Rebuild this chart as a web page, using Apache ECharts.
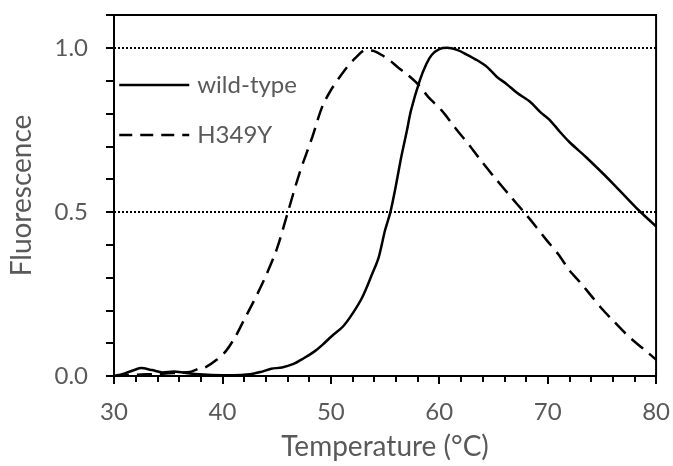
<!DOCTYPE html>
<html>
<head>
<meta charset="utf-8">
<script src="https://cdn.jsdelivr.net/npm/echarts@6/dist/echarts.min.js"></script>
<style>
html,body{margin:0;padding:0;background:#fff;}
#chart{width:673px;height:466px;}
</style>
</head>
<body>
<div id="chart"></div>
<script>
// Wild-type melt curve
var wtTemp  = [30, 31, 32, 32.5, 33.5, 34.5, 35.5, 36.5, 37.5, 39, 41, 42.5, 43.5, 44.5, 45.5, 46.5, 47.5, 48.5, 49.2, 50.1, 51.1, 52, 52.9, 53.8, 54.4, 55, 55.5, 56, 56.5, 57, 57.4, 58.2, 58.8, 59.3, 60, 60.7, 61.7, 62.5, 63.5, 64.4, 65.3, 66.2, 67.2, 68.4, 69.3, 70.2, 71.1, 72, 73.5, 75.1, 76, 77.2, 78.4, 80];
var wtFluor = [0.0, 0.008, 0.02, 0.024, 0.018, 0.011, 0.014, 0.01, 0.006, 0.003, 0.002, 0.005, 0.012, 0.022, 0.026, 0.036, 0.054, 0.075, 0.094, 0.122, 0.15, 0.19, 0.24, 0.31, 0.36, 0.444, 0.5, 0.58, 0.668, 0.745, 0.81, 0.9, 0.95, 0.978, 0.996, 1.0, 0.993, 0.98, 0.962, 0.942, 0.912, 0.89, 0.862, 0.835, 0.805, 0.78, 0.745, 0.713, 0.668, 0.617, 0.587, 0.546, 0.505, 0.456];
// H349Y melt curve
var mutTemp  = [30, 31, 32, 33, 34, 35, 36, 37, 37.8, 38.5, 39.5, 40.3, 41.2, 41.9, 42.8, 43.8, 45, 46, 47.1, 48.3, 49.2, 50.1, 51.4, 52.3, 53.2, 54, 54.7, 55.5, 56.2, 57, 58, 59, 60.2, 61.5, 62.9, 64, 65.3, 66.5, 67.8, 69, 69.9, 71, 72, 73, 74.1, 75, 76, 77.2, 78, 79, 80];
var mutFluor = [0.0, 0.002, 0.004, 0.005, 0.006, 0.008, 0.01, 0.012, 0.022, 0.028, 0.05, 0.075, 0.12, 0.165, 0.222, 0.29, 0.385, 0.495, 0.617, 0.729, 0.82, 0.876, 0.937, 0.97, 0.993, 0.99, 0.978, 0.96, 0.94, 0.92, 0.89, 0.85, 0.81, 0.755, 0.698, 0.65, 0.597, 0.55, 0.5, 0.452, 0.414, 0.37, 0.322, 0.285, 0.241, 0.205, 0.17, 0.129, 0.105, 0.078, 0.05];
var seriesNames = ['wild-type', 'H349Y'];
var refLines = [0.5, 1.0];
var yLabelValues = [0, 0.5, 1.0];

function pairs(xs, ys){ return xs.map(function(x,i){ return [x, ys[i]]; }); }
function isIn(v, list){ for (var i=0;i<list.length;i++){ if (Math.abs(v-list[i])<1e-6) return true; } return false; }

var FONT = 'Lato';
var GRAY = '#595959';
var chart = echarts.init(document.getElementById('chart'), null, {renderer:'canvas'});
chart.setOption({
  animation: false,
  backgroundColor: '#fff',
  grid: { left: 109, right: 16, top: 15, bottom: 90, show: true, borderColor: '#000', borderWidth: 2, backgroundColor: 'transparent' },
  legend: {
    orient: 'vertical', left: 118, top: 73, padding: 0,
    itemWidth: 70, itemHeight: 24, itemGap: 26,
    textStyle: { fontFamily: FONT, fontSize: 24, color: GRAY, padding: [0,0,0,3] },
    itemStyle: { opacity: 0 },
    data: [
      { name: seriesNames[0], itemStyle: { opacity: 0 }, lineStyle: { type: 'solid', width: 2.5, color: '#000' } },
      { name: seriesNames[1], itemStyle: { opacity: 0 }, lineStyle: { type: [13, 8], width: 2.5, color: '#000' } }
    ]
  },
  xAxis: {
    type: 'value', min: 30, max: 80, interval: 10, position: 'bottom',
    name: 'Temperature (°C)', nameLocation: 'middle', nameGap: 57,
    nameTextStyle: { fontFamily: FONT, fontSize: 28, color: GRAY },
    axisLine: { show: true, onZero: false, lineStyle: { color: '#000', width: 2 } },
    axisTick: { show: true, inside: false, length: 8, lineStyle: { color: '#000', width: 2 } },
    minorTick: { show: true, splitNumber: 5, length: 6, lineStyle: { color: '#000', width: 2 } },
    axisLabel: { fontFamily: FONT, fontSize: 24, color: GRAY, margin: 24 },
    splitLine: { show: false }
  },
  yAxis: {
    type: 'value', min: 0, max: 1.1, interval: 0.1,
    name: 'Fluorescence', nameLocation: 'middle', nameGap: 78, nameRotate: 90,
    nameTextStyle: { fontFamily: FONT, fontSize: 28, color: GRAY },
    axisLine: { onZero: false, lineStyle: { color: '#000', width: 2 } },
    axisTick: { show: true, length: 8, lineStyle: { color: '#000', width: 2 } },
    axisLabel: { fontFamily: FONT, fontSize: 24, color: GRAY, margin: 26,
      formatter: function(v){ return isIn(v, yLabelValues) ? v.toFixed(1) : ''; } },
    splitLine: { show: false }
  },
  series: [
    { name: seriesNames[0], type: 'line', data: pairs(wtTemp, wtFluor), showSymbol: false, symbol: 'none', smooth: 0.3,
      lineStyle: { color: '#000', width: 2.5, type: 'solid' }, itemStyle: { color: '#000' },
      markLine: { silent: true, symbol: 'none', label: { show: false },
        lineStyle: { color: '#000', width: 2, type: [2, 2] },
        data: refLines.map(function(v){ return { yAxis: v }; }) } },
    { name: seriesNames[1], type: 'line', data: pairs(mutTemp, mutFluor), showSymbol: false, symbol: 'none', smooth: 0.3,
      lineStyle: { color: '#000', width: 2.5, type: [15, 8] }, itemStyle: { color: '#000' } }
  ]
});
</script>
</body>
</html>
